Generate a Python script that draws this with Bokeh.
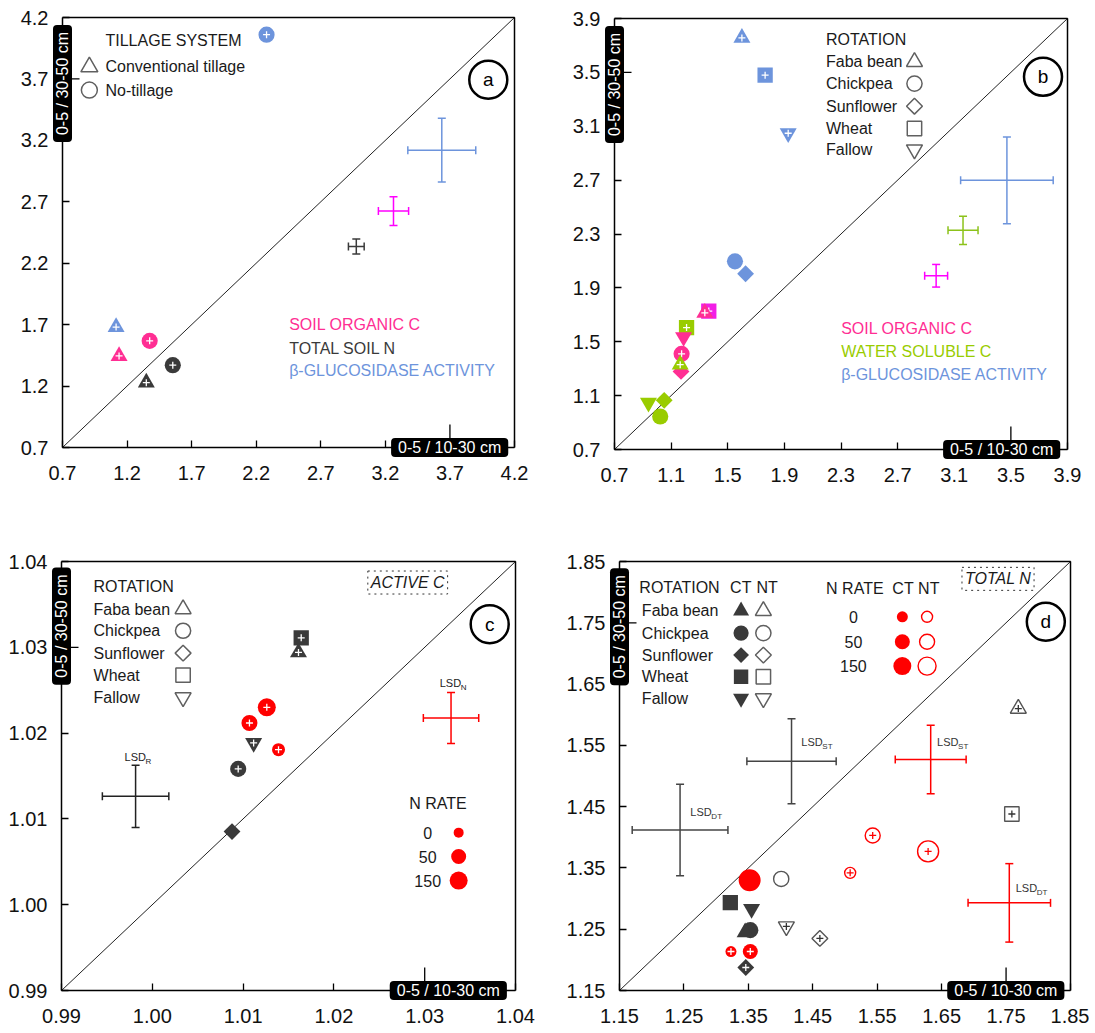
import numpy as np
from bokeh.plotting import figure
from bokeh.models import Label, FixedTicker, Range1d, ColumnDataSource, NumeralTickFormatter
from bokeh.layouts import row, column
from bokeh.embed import file_html
from bokeh.resources import INLINE
from bokeh.core.properties import field

FONT = "Liberation Sans, Arial, sans-serif"

# ---------------- panel a : tillage system ----------------
A_TICKS = [0.7, 1.2, 1.7, 2.2, 2.7, 3.2, 3.7, 4.2]
A_TILLAGE = ["Conventional tillage", "No-tillage"]
A_VARS = ["SOIL ORGANIC C", "TOTAL SOIL N", "β-GLUCOSIDASE ACTIVITY"]
A_SOC_X = [1.138, 1.375]
A_SOC_Y = [1.445, 1.568]
A_TN_X = [1.349, 1.554]
A_TN_Y = [1.228, 1.37]
A_BG_X = [1.115, 2.28]
A_BG_Y = [1.68, 4.06]
A_LSD_X = [3.263, 2.975, 3.637]
A_LSD_Y = [2.624, 2.336, 3.12]
A_LSD_DX = [0.117, 0.061, 0.263]
A_LSD_DY = [0.117, 0.062, 0.259]

# ---------------- panel b : rotation ----------------
B_TICKS = [0.7, 1.1, 1.5, 1.9, 2.3, 2.7, 3.1, 3.5, 3.9]
ROTATION = ["Faba bean", "Chickpea", "Sunflower", "Wheat", "Fallow"]
B_VARS = ["SOIL ORGANIC C", "WATER SOLUBLE C", "β-GLUCOSIDASE ACTIVITY"]
B_SOC_X = [1.338, 1.174, 1.17, 1.366, 1.188]
B_SOC_Y = [1.715, 1.41, 1.28, 1.728, 1.535]
B_SOC_PLUS = [1, 1, 0, 1, 0]
B_WSC_X = [1.164, 1.023, 1.051, 1.209, 0.94]
B_WSC_Y = [1.33, 0.945, 1.065, 1.605, 1.047]
B_WSC_PLUS = [1, 0, 0, 1, 0]
B_BG_X = [1.60, 1.551, 1.626, 1.764, 1.927]
B_BG_Y = [3.756, 2.097, 2.005, 3.479, 3.048]
B_BG_PLUS = [1, 0, 0, 1, 1]
B_LSD_X = [2.972, 3.162, 3.472]
B_LSD_Y = [1.99, 2.327, 2.699]
B_LSD_DX = [0.081, 0.106, 0.327]
B_LSD_DY = [0.084, 0.105, 0.322]

# ---------------- panel c : active C ----------------
C_TICKS = [0.99, 1.00, 1.01, 1.02, 1.03, 1.04]
C_ROT_X = [1.0161, 1.00946, 1.00878, 1.0164, 1.01116]
C_ROT_Y = [1.0294, 1.01583, 1.00852, 1.0311, 1.01885]
C_ROT_PLUS = [1, 1, 0, 1, 1]
N_RATES = ["0", "50", "150"]
C_N_X = [1.0139, 1.0107, 1.01261]
C_N_Y = [1.01807, 1.02118, 1.023]
C_LSD_NAMES = ["R", "N"]
C_LSD_X = [0.99816, 1.0329]
C_LSD_Y = [1.01263, 1.02175]
C_LSD_DX = [0.00366, 0.00305]
C_LSD_DY = [0.00363, 0.00297]

# ---------------- panel d : total N ----------------
D_TICKS = [1.15, 1.25, 1.35, 1.45, 1.55, 1.65, 1.75, 1.85]
D_CT_X = [1.345, 1.353, 1.346, 1.322, 1.355]
D_CT_Y = [1.245, 1.2485, 1.1875, 1.2935, 1.283]
D_CT_PLUS = [0, 0, 1, 0, 0]
D_NT_X = [1.769, 1.401, 1.461, 1.759, 1.409]
D_NT_Y = [1.61, 1.332, 1.235, 1.438, 1.2545]
D_NT_PLUS = [1, 0, 1, 1, 1]
D_NCT_X = [1.323, 1.353, 1.352]
D_NCT_Y = [1.2136, 1.2136, 1.330]
D_NCT_PLUS = [1, 1, 0]
D_NNT_X = [1.508, 1.543, 1.629]
D_NNT_Y = [1.342, 1.403, 1.377]
D_LSD_NAMES = ["ST", "DT", "ST", "DT"]
D_LSD_X = [1.417, 1.244, 1.633, 1.755]
D_LSD_Y = [1.524, 1.412, 1.527, 1.293]
D_LSD_DX = [0.0693, 0.0743, 0.055, 0.064]
D_LSD_DY = [0.0693, 0.0747, 0.056, 0.064]

# ---------------- styles ----------------
SOC_C = "#ff2e93"
SOC_SQ = "#f21ee6"
SOC_LSD = "#ff00ff"
TN_C = "#3a3a3a"
BG_C = "#6d94dc"
WSC_C = "#99cc00"
WSC_LSD = "#8cc21a"
RED = "#ff0000"
DARK = "#3a3a3a"
OPEN = "#555555"
TXT = "#1a1a1a"
FS = 16

ROT_SHAPES = ["triangle", "circle", "diamond", "square", "inverted_triangle"]
SHAPE = {
    "triangle": ("triangle", 0.0, 1.0),
    "circle": ("circle", 0.0, 0.95),
    "diamond": ("square", np.pi / 4, 0.7),
    "square": ("square", 0.0, 0.9),
    "inverted_triangle": ("inverted_triangle", 0.0, 1.0),
}


def base_fig(ticks, fmt, W, H, bx0, bx1, by0, by1, so_x, long_tick):
    """Whole canvas is the frame; the axes are pinned to the data box edges."""
    lo, hi = ticks[0], ticks[-1]
    kx = (bx1 - bx0) / (hi - lo)
    ky = (by1 - by0) / (hi - lo)
    p = figure(width=W, height=H, title=None,
               x_range=Range1d(lo - bx0 / kx, hi + (W - bx1) / kx),
               y_range=Range1d(lo - (H - by1) / ky, hi + by0 / ky),
               min_border=0, min_border_left=0, min_border_right=0,
               min_border_top=0, min_border_bottom=0,
               output_backend="svg", toolbar_location=None)
    p.xgrid.visible = False
    p.ygrid.visible = False
    p.outline_line_color = None
    for ax, so in ((p.xaxis[0], so_x), (p.yaxis[0], 14)):
        ax.fixed_location = lo
        ax.bounds = (lo, hi)
        ax.ticker = FixedTicker(ticks=ticks)
        ax.formatter = NumeralTickFormatter(format=fmt)
        ax.major_tick_in = 7
        ax.major_tick_out = 0
        ax.minor_tick_in = 0
        ax.minor_tick_out = 0
        ax.axis_line_width = 1.5
        ax.axis_line_color = "black"
        ax.major_tick_line_width = 1.3
        ax.major_label_text_font = FONT
        ax.major_label_text_font_size = "20px"
        ax.major_label_text_color = "#111111"
        ax.major_label_standoff = so
    # top and right edges of the data box
    p.line(x=[lo, hi, hi], y=[hi, hi, lo], line_color="black", line_width=1.5)
    # 1:1 line
    p.line(x=[lo, hi], y=[lo, hi], line_color="#222222", line_width=1)
    # the longer tick that shows past the depth-label boxes
    p.segment(x0=[long_tick, lo], y0=[lo, long_tick], x1=[long_tick, lo + 17 / kx],
              y1=[lo + 23 / ky, long_tick], line_color="black", line_width=1.3)
    return p


def txt(p, x, y, text, size=FS, color=TXT, align="left", baseline="middle", style="normal", **kw):
    p.add_layout(Label(x=x, y=y, text=text, text_font=FONT, text_font_size=f"{size}px",
                       text_color=color, text_align=align, text_baseline=baseline,
                       text_font_style=style, **kw))


def marks(p, xs, ys, shapes, base, fill=None, line=None, lw=1.4, plus=None, plus_color="white",
          idx=None):
    idx = list(range(len(xs))) if idx is None else idx
    X, Y, M, A, S, PX, PY = [], [], [], [], [], [], []
    for i in idx:
        mk, ang, f = SHAPE[shapes[i]]
        X.append(xs[i]); Y.append(ys[i]); M.append(mk); A.append(ang); S.append(base * f)
        if plus is not None and plus[i]:
            PX.append(xs[i]); PY.append(ys[i])
    src = ColumnDataSource(dict(x=X, y=Y, m=M, a=A, s=S))
    p.scatter(x="x", y="y", source=src, marker=field("m"), angle=field("a"), size=field("s"),
              fill_color=fill, line_color=line, line_width=lw if line else 0)
    if PX:
        p.scatter(x=PX, y=PY, marker="cross", size=7, line_color=plus_color, line_width=1.3)


def circ(p, xs, ys, sizes, fill=None, line=None, lw=1.4, plus=None, plus_color="white"):
    p.scatter(x=xs, y=ys, size=sizes, marker="circle", fill_color=fill, line_color=line,
              line_width=lw if line else 0)
    if plus is not None:
        PX = [xs[i] for i in range(len(xs)) if plus[i]]
        PY = [ys[i] for i in range(len(xs)) if plus[i]]
        if PX:
            p.scatter(x=PX, y=PY, marker="cross", size=7, line_color=plus_color, line_width=1.3)


def lsd(p, x, y, dx, dy, color, lw=1.5, cap=8):
    p.segment(x0=[x - dx, x], y0=[y, y - dy], x1=[x + dx, x], y1=[y, y + dy],
              line_color=color, line_width=lw)
    p.scatter(x=[x - dx, x + dx], y=[y, y], marker="dash", angle=np.pi / 2, size=cap,
              line_color=color, line_width=lw)
    p.scatter(x=[x, x], y=[y - dy, y + dy], marker="dash", size=cap, line_color=color,
              line_width=lw)


BOX_PAD = dict(left=7, right=7, top=1, bottom=1)


def boxes(p, ticks, ybox_y, xbox_x):
    p.add_layout(Label(x=ticks[0], y=ybox_y, text="0-5 / 30-50 cm", angle=90, angle_units="deg",
                       text_align="center", text_baseline="middle", text_color="white",
                       text_font=FONT, text_font_size="16px", level="overlay",
                       background_fill_color="black", border_radius=4, padding=BOX_PAD))
    p.add_layout(Label(x=xbox_x, y=ticks[0], text="0-5 / 10-30 cm", level="overlay",
                       text_align="center", text_baseline="middle", text_color="white",
                       text_font=FONT, text_font_size="16px",
                       background_fill_color="black", border_radius=4, padding=BOX_PAD))


def letter(p, x, y, ch):
    p.scatter(x=[x], y=[y], marker="circle", size=38, fill_color=None, line_color="black",
              line_width=2.5)
    txt(p, x, y, ch, size=19, color="black", align="center")


def lsd_label(p, x, y, sub, color):
    txt(p, x, y, "LSD", size=11, color=color)
    txt(p, x, y, sub, size=8, color=color, x_offset=21, y_offset=-4)


# ================= panel a =================
pa = base_fig(A_TICKS, "0.0", 560, 534, 62, 514, 17, 447, 18, A_TICKS[6])
marks(pa, A_SOC_X, A_SOC_Y, ["triangle", "circle"], 17, fill=SOC_C, plus=[1, 1])
marks(pa, A_TN_X, A_TN_Y, ["triangle", "circle"], 17, fill=TN_C, plus=[1, 1])
marks(pa, A_BG_X, A_BG_Y, ["triangle", "circle"], 17, fill=BG_C, plus=[1, 1])
for i, col in enumerate([SOC_LSD, TN_C, BG_C]):
    lsd(pa, A_LSD_X[i], A_LSD_Y[i], A_LSD_DX[i], A_LSD_DY[i], col)
txt(pa, 1.033, 4.016, "TILLAGE SYSTEM")
pa.scatter(x=[0.908], y=[3.798], marker="triangle", size=17, fill_color=None, line_color="#606060", line_width=1.5)
pa.scatter(x=[0.908], y=[3.609], marker="circle", size=16, fill_color=None, line_color="#606060", line_width=1.5)
txt(pa, 1.033, 3.798, A_TILLAGE[0])
txt(pa, 1.033, 3.609, A_TILLAGE[1])
for yy, t, c in zip([1.699, 1.509, 1.330], A_VARS, [SOC_C, TN_C, BG_C]):
    txt(pa, 2.455, yy, t, color=c)
letter(pa, 3.997, 3.693, "a")
boxes(pa, A_TICKS, 3.663, 3.698)

# ================= panel b =================
pb = base_fig(B_TICKS, "0.0", 528, 534, 54, 507, 18, 449, 18, B_TICKS[7])
marks(pb, B_BG_X, B_BG_Y, ROT_SHAPES, 17, fill=BG_C, plus=B_BG_PLUS)
marks(pb, B_WSC_X, B_WSC_Y, ROT_SHAPES, 17, fill=WSC_C, plus=B_WSC_PLUS, idx=[3])
marks(pb, B_SOC_X, B_SOC_Y, ROT_SHAPES, 17, fill=SOC_C, plus=B_SOC_PLUS, idx=[2, 4, 1])
marks(pb, B_SOC_X, B_SOC_Y, ROT_SHAPES, 17, fill=SOC_SQ, plus=B_SOC_PLUS, idx=[3])
marks(pb, B_SOC_X, B_SOC_Y, ROT_SHAPES, 17, fill=SOC_C, plus=B_SOC_PLUS, idx=[0])
marks(pb, B_WSC_X, B_WSC_Y, ROT_SHAPES, 17, fill=WSC_C, plus=B_WSC_PLUS, idx=[0, 1, 2, 4])
for i, col in enumerate([SOC_LSD, WSC_LSD, BG_C]):
    lsd(pb, B_LSD_X[i], B_LSD_Y[i], B_LSD_DX[i], B_LSD_DY[i], col)
txt(pb, 2.194, 3.744, "ROTATION")
for yy, t, s in zip([3.578, 3.417, 3.249, 3.083, 2.927], ROTATION, ROT_SHAPES):
    txt(pb, 2.194, yy, t)
    mk, ang, f = SHAPE[s]
    pb.scatter(x=[2.819], y=[yy], marker=mk, angle=ang, size=16 * f, fill_color=None,
               line_color="#606060", line_width=1.5)
for yy, t, c in zip([1.597, 1.428, 1.257], B_VARS, [SOC_C, WSC_C, BG_C]):
    txt(pb, 2.301, yy, t, color=c)
letter(pb, 3.727, 3.467, "b")
boxes(pb, B_TICKS, 3.41, 3.435)

# ================= panel c =================
pc = base_fig(C_TICKS, "0.00", 561, 498, 61, 515, 27, 456, 18, C_TICKS[4])
marks(pc, C_ROT_X, C_ROT_Y, ROT_SHAPES, 17, fill=DARK, plus=C_ROT_PLUS)
circ(pc, C_N_X, C_N_Y, [13, 16, 18], fill=RED, plus=[1, 1, 1])
lsd(pc, C_LSD_X[0], C_LSD_Y[0], C_LSD_DX[0], C_LSD_DY[0], "#222222")
lsd(pc, C_LSD_X[1], C_LSD_Y[1], C_LSD_DX[1], C_LSD_DY[1], RED)
lsd_label(pc, 0.99694, 1.01717, C_LSD_NAMES[0], "#222222")
lsd_label(pc, 1.03165, 1.02583, C_LSD_NAMES[1], "#222222")
txt(pc, 0.99353, 1.03705, "ROTATION")
for yy, t, s in zip([1.03445, 1.03193, 1.02932, 1.02676, 1.02416], ROTATION, ROT_SHAPES):
    txt(pc, 0.99353, yy, t)
    mk, ang, f = SHAPE[s]
    pc.scatter(x=[1.00339], y=[yy], marker=mk, angle=ang, size=16 * f, fill_color=None,
               line_color="#606060", line_width=1.5)
txt(pc, 1.03146, 1.01174, "N RATE", align="center")
for yy, t, sz in zip([1.0084, 1.00561, 1.00281], N_RATES, [10, 15, 18]):
    txt(pc, 1.03033, yy, t, align="center")
    pc.scatter(x=[1.03374], y=[yy], marker="circle", size=sz, fill_color=RED, line_color=None)
txt(pc, 1.02813, 1.03755, "ACTIVE C", style="italic", align="center",
    border_line_color="#333333", border_line_dash="dotted", border_line_width=1,
    background_fill_color="white", padding=3)
letter(pc, 1.03716, 1.0327, "c")
boxes(pc, C_TICKS, 1.03247, 1.0326)

# ================= panel d =================
pd_ = base_fig(D_TICKS, "0.00", 528, 498, 58, 509, 27, 456, 18, D_TICKS[6])
marks(pd_, D_CT_X, D_CT_Y, ROT_SHAPES, 17, fill=DARK, plus=D_CT_PLUS, idx=[3, 4, 1, 0])
marks(pd_, D_NT_X, D_NT_Y, ROT_SHAPES, 16, fill="white", line=OPEN, lw=1.4, plus=D_NT_PLUS,
      plus_color="#333333")
circ(pd_, D_NCT_X, D_NCT_Y, [11, 15, 22], fill=RED, plus=D_NCT_PLUS)
marks(pd_, D_CT_X, D_CT_Y, ROT_SHAPES, 17, fill=DARK, plus=D_CT_PLUS, idx=[2])
circ(pd_, D_NNT_X, D_NNT_Y, [11, 15, 21], fill=None, line=RED, lw=1.4, plus=[1, 1, 1],
     plus_color=RED)
for i, col in enumerate(["#444444", "#444444", RED, RED]):
    lsd(pd_, D_LSD_X[i], D_LSD_Y[i], D_LSD_DX[i], D_LSD_DY[i], col)
for x, y, i in zip([1.4322, 1.26, 1.6429, 1.765], [1.5549, 1.4408, 1.5549, 1.3168], range(4)):
    lsd_label(pd_, x, y, D_LSD_NAMES[i], "#333333")
txt(pd_, 1.1808, 1.8076, "ROTATION")
txt(pd_, 1.3382, 1.8076, "CT", align="center")
txt(pd_, 1.379, 1.8076, "NT", align="center")
for yy, t, s in zip([1.7696, 1.7332, 1.6973, 1.662, 1.6266], ROTATION, ROT_SHAPES):
    txt(pd_, 1.1847, yy, t)
    mk, ang, f = SHAPE[s]
    pd_.scatter(x=[1.3387], y=[yy], marker=mk, angle=ang, size=16 * f, fill_color=DARK,
                line_color=None)
    pd_.scatter(x=[1.3733], y=[yy], marker=mk, angle=ang, size=16 * f, fill_color=None,
                line_color="#606060", line_width=1.5)
txt(pd_, 1.4707, 1.806, "N RATE")
txt(pd_, 1.590, 1.806, "CT", align="center")
txt(pd_, 1.630, 1.806, "NT", align="center")
for yy, t, sz in zip([1.7598, 1.719, 1.6793], N_RATES, [11, 15, 18]):
    txt(pd_, 1.513, yy, t, align="center")
    pd_.scatter(x=[1.589], y=[yy], marker="circle", size=sz, fill_color=RED, line_color=None)
    pd_.scatter(x=[1.6274], y=[yy], marker="circle", size=sz, fill_color=None, line_color=RED,
                line_width=1.4)
txt(pd_, 1.7375, 1.8217, "TOTAL N", style="italic", align="center",
    border_line_color="#333333", border_line_dash="dotted", border_line_width=1,
    background_fill_color="white", padding=3)
letter(pd_, 1.8117, 1.7516, "d")
boxes(pd_, D_TICKS, 1.7435, 1.7496)

layout = column(row(pa, pb), row(pc, pd_))
open("out.html", "w").write(file_html(layout, INLINE))
